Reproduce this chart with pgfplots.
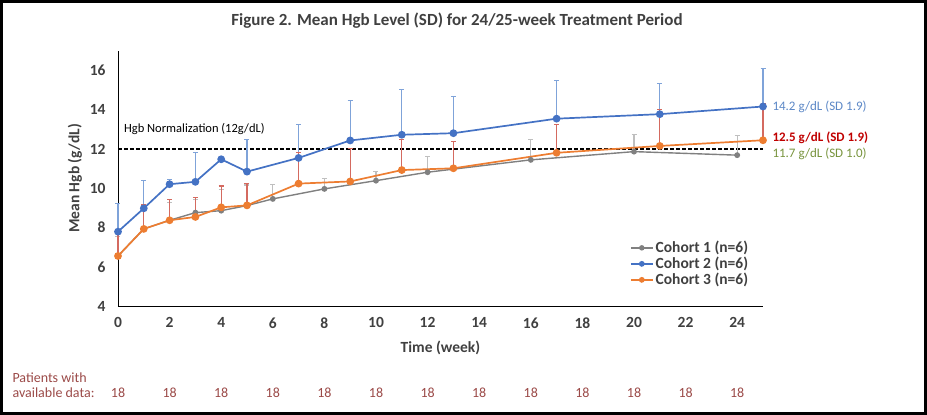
\documentclass[border=0pt]{standalone}
\usepackage{fontspec}
\setmainfont{Carlito}
\usepackage{pgfplots}
\pgfplotsset{compat=1.18}

\definecolor{cgray}{HTML}{808080}
\definecolor{cblue}{HTML}{4472C4}
\definecolor{corange}{HTML}{ED7D31}
\definecolor{egray}{HTML}{BFBFBF}
\definecolor{eblue}{HTML}{7FA3D9}
\definecolor{eorange}{HTML}{D46A60}
\definecolor{txt}{HTML}{404040}
\definecolor{pat}{HTML}{9B4A48}
\definecolor{annblue}{HTML}{5B87C6}
\definecolor{annred}{HTML}{C00000}
\definecolor{anngreen}{HTML}{77933C}

% week, mean Hgb, SD (upper bar only)
\pgfplotstableread{
x y e
0 6.55 1.00
1 7.93 1.10
2 8.37 0.90
3 8.76 0.65
4 8.86 1.06
5 9.12 1.05
6 9.46 0.75
8 9.97 0.54
10 10.39 0.45
12 10.82 0.80
16 11.45 1.02
20 11.87 0.89
24 11.69 0.98
}\cohortone
\pgfplotstableread{
x y e
0 7.79 1.45
1 8.98 1.41
2 10.21 0.25
3 10.33 1.51
4 11.48 0.00
5 10.85 1.62
7 11.55 1.69
9 12.44 2.03
11 12.73 2.29
13 12.81 1.85
17 13.55 1.93
21 13.78 1.55
25 14.17 1.93
}\cohorttwo
\pgfplotstableread{
x y e
0 6.55 1.30
1 7.93 1.22
2 8.37 1.04
3 8.54 1.01
4 9.03 1.09
5 9.13 1.13
7 10.24 1.58
9 10.35 1.69
11 10.93 1.54
13 11.02 1.36
17 11.81 1.42
21 12.16 1.84
25 12.45 1.89
}\cohortthree

\begin{document}
\begin{tikzpicture}
\begin{axis}[
    scale only axis, width=645pt, height=255pt,
    xmin=0, xmax=25, ymin=4, ymax=17,
    xtick={0,2,...,24}, ytick={4,6,...,16},
    axis x line*=bottom, axis y line*=left,
    axis line style={black, line width=0.9pt, -},
    major tick length=0pt,
    clip=false,
    /pgf/number format/assume math mode=true,
    tick label style={font=\fontsize{15.5}{15.5}\selectfont\bfseries, text=txt},
    xticklabel style={yshift=-8pt},
    yticklabel style={xshift=-9pt},
    xlabel={Time (week)}, ylabel={Mean Hgb (g/dL)},
    label style={font=\fontsize{15.5}{16}\selectfont\bfseries, text=txt},
    xlabel style={at={(axis description cs:0.5,0)}, anchor=center, yshift=-42pt},
    ylabel style={at={(axis description cs:-0.0667,0.5)}, anchor=center},
    legend style={at={(rel axis cs:0.985,0.27)}, anchor=north east, draw=none, fill=none,
        font=\fontsize{15.5}{16}\selectfont\bfseries, text=txt, row sep=-1pt,
        legend cell align=left},
    legend image code/.code={\draw[mark repeat=2,mark phase=2,mark size=2pt] plot coordinates {(0pt,0pt) (11pt,0pt) (22pt,0pt)};},
    error bars/y dir=plus, error bars/y explicit,
]
\addplot[forget plot, black, line width=1.3pt, dash pattern=on 4pt off 2pt] coordinates {(0,12) (25,12)};
\addplot[color=cgray, line width=1.4pt, mark=*, mark size=2.2pt,
    error bars/error bar style={color=egray, line width=1.1pt},
    error bars/error mark options={rotate=90, mark size=2.5pt, color=egray, line width=1.1pt}]
    table[x=x, y=y, y error=e] {\cohortone};
\addplot[color=cblue, line width=1.7pt, mark=*, mark size=3pt,
    error bars/error bar style={color=eblue, line width=1.1pt},
    error bars/error mark options={rotate=90, mark size=2.5pt, color=eblue, line width=1.1pt}]
    table[x=x, y=y, y error=e] {\cohorttwo};
\addplot[color=corange, line width=1.7pt, mark=*, mark size=3pt,
    error bars/error bar style={color=eorange, line width=1.1pt},
    error bars/error mark options={rotate=90, mark size=2.5pt, color=eorange, line width=1.1pt}]
    table[x=x, y=y, y error=e] {\cohortthree};
\legend{Cohort 1 (n=6), Cohort 2 (n=6), Cohort 3 (n=6)}

\node[anchor=west, font=\fontsize{12.5}{12.5}\selectfont] at (axis cs:0.1,13.0) {Hgb Normalization (12g/dL)};
\node[anchor=west, xshift=6pt, text=annblue, font=\fontsize{13}{13}\selectfont] at (axis cs:25,14.17) {14.2 g/dL (SD 1.9)};
\node[anchor=west, xshift=6pt, text=annred, font=\fontsize{13}{13}\selectfont\bfseries] at (axis cs:25,12.56) {12.5 g/dL (SD 1.9)};
\node[anchor=west, xshift=6pt, text=anngreen, font=\fontsize{13}{13}\selectfont] at (axis cs:25,11.74) {11.7 g/dL (SD 1.0)};
\end{axis}

% title, patient counts and frame (axis box lower left is the origin)
\node[font=\fontsize{17}{17}\selectfont\bfseries, text=txt] at (339pt,285pt) {Figure 2. Mean Hgb Level (SD) for 24/25-week Treatment Period};
\node[anchor=west, text=pat, font=\fontsize{14}{14}\selectfont] at (-109pt,-72pt) {Patients with};
\node[anchor=west, text=pat, font=\fontsize{14}{14}\selectfont] at (-109pt,-87pt) {available data:};
\foreach \i in {0,...,12}
  \node[text=pat, font=\fontsize{14}{14}\selectfont] at ({\i*51.6pt},-87pt) {18};
\draw[black, line width=3pt] (-116.5pt,-107.5pt) rectangle (807.5pt,304.5pt);
\end{tikzpicture}
\end{document}
